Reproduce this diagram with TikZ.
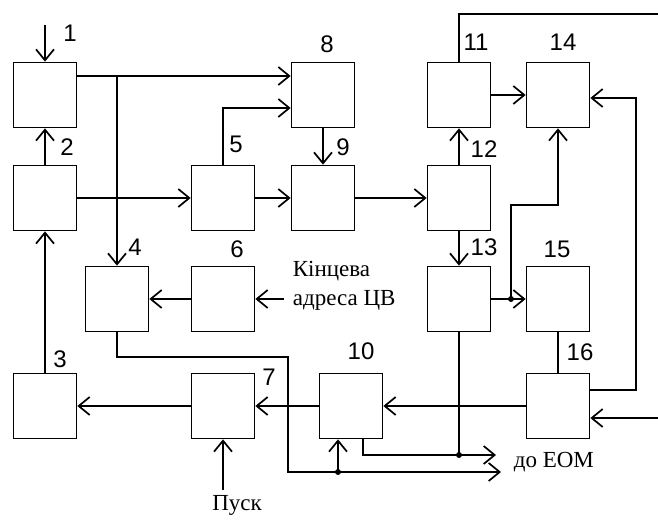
\documentclass[tikz,border=0pt]{standalone}
\usepackage{fontspec}
\setmainfont{Liberation Serif}
\newfontfamily\numfont{Liberation Sans}
\usetikzlibrary{arrows.meta}

\begin{document}
\begin{tikzpicture}[x=1pt,y=-1pt,line width=1.7pt,
	blk/.style={draw,minimum width=63pt,minimum height=65pt,inner sep=0pt},
	num/.style={font=\numfont\fontsize{24}{26}\selectfont,inner sep=0pt},
	txt/.style={font=\fontsize{23}{29}\selectfont,inner sep=0pt},
	arr/.style={-{Straight Barb[length=11pt,width=18pt]}}]
	\useasboundingbox (0,0) rectangle (658,521);
	% blocks
	\node[blk] (b1) at (45,95) {};
	\node[blk] (b2) at (45,198) {};
	\node[blk] (b3) at (45,406) {};
	\node[blk] (b4) at (117,299) {};
	\node[blk] (b5) at (223,198) {};
	\node[blk] (b6) at (223,299) {};
	\node[blk] (b7) at (223,406) {};
	\node[blk] (b8) at (323,95) {};
	\node[blk] (b9) at (323,198) {};
	\node[blk] (b10) at (351,406) {};
	\node[blk] (b11) at (459,95) {};
	\node[blk] (b12) at (459,198) {};
	\node[blk] (b13) at (459,299) {};
	\node[blk] (b14) at (558,95) {};
	\node[blk] (b15) at (558,299) {};
	\node[blk] (b16) at (558,406) {};
	% numbers
	\node[num] at (70,33) {1};
	\node[num] at (67,147) {2};
	\node[num] at (60,359) {3};
	\node[num] at (135,247) {4};
	\node[num] at (236,144) {5};
	\node[num] at (237,249) {6};
	\node[num] at (269,377) {7};
	\node[num] at (327,44) {8};
	\node[num] at (343,147) {9};
	\node[num] at (361,351) {10};
	\node[num] at (476,42) {11};
	\node[num] at (484,149) {12};
	\node[num] at (484,247) {13};
	\node[num] at (563,42) {14};
	\node[num] at (557,249) {15};
	\node[num] at (580,352) {16};
	% texts
	\node[txt,align=left,anchor=west] (adr) at (292,286) {Кінцева\\адреса ЦВ};
	\node[txt] (pusk) at (237,505) {Пуск};
	\node[txt,anchor=west] (eom) at (513,462) {до ЕОМ};
	% free ends
	\coordinate (in1) at (45,25);
	\coordinate (adrin) at (284,299);
	\coordinate (pin) at (223,490);
	\coordinate (outR) at (658,14);
	\coordinate (inR) at (658,418);
	\coordinate (eomA) at (496,455);
	\coordinate (eomB) at (501,472);
	\coordinate (j15) at (511,299);
	\coordinate (b10in) at ([xshift=-13pt]b10.south);
	\coordinate (b10out) at ([xshift=12pt]b10.south);
	% connections
	\draw[arr] (in1) -- (b1.north);
	\draw[arr] (b1.east |- 0,76) -- (b8.west |- 0,76);
	\draw[arr] (b4.north |- 0,76) -- (b4.north);
	\draw[arr] (b2.north) -- (b1.south);
	\draw[arr] (b3.north) -- (b2.south);
	\draw[arr] (b2.east) -- (b5.west);
	\draw[arr] (b5.north) |- (b8.west |- 0,108);
	\draw[arr] (b5.east) -- (b9.west);
	\draw[arr] (b8.south) -- (b9.north);
	\draw[arr] (b9.east) -- (b12.west);
	\draw[arr] (b12.north) -- (b11.south);
	\draw (b11.north) |- (outR);
	\draw[arr] (b11.east) -- (b14.west);
	\draw[arr] (b16.east |- 0,390) -| (636,98) -- (b14.east |- 0,98);
	\draw[arr] (b12.south) -- (b13.north);
	\draw[arr] (b13.east) -- (b15.west);
	\draw[arr] (j15) |- (b14.south |- 0,205) -- (b14.south);
	\fill (j15) circle[radius=3pt];
	\draw (b15.south) -- (b16.north);
	\draw[arr] (inR) -- (b16.east |- inR);
	\draw[arr] (b16.west) -- (b10.east);
	\draw[arr] (b10.west) -- (b7.east);
	\draw[arr] (b7.west) -- (b3.east);
	\draw[arr] (pin) -- (b7.south);
	\draw[arr] (b6.west) -- (b4.east);
	\draw[arr] (adrin) -- (b6.east);
	\draw[arr] (b10out) |- (eomA);
	\draw (b13.south) -- (b13.south |- eomA);
	\fill (b13.south |- eomA) circle[radius=3pt];
	\draw[arr] (b4.south) |- (288,357) |- (eomB);
	\draw[arr] (b10in |- eomB) -- (b10in);
	\fill (b10in |- eomB) circle[radius=3pt];
\end{tikzpicture}
\end{document}
